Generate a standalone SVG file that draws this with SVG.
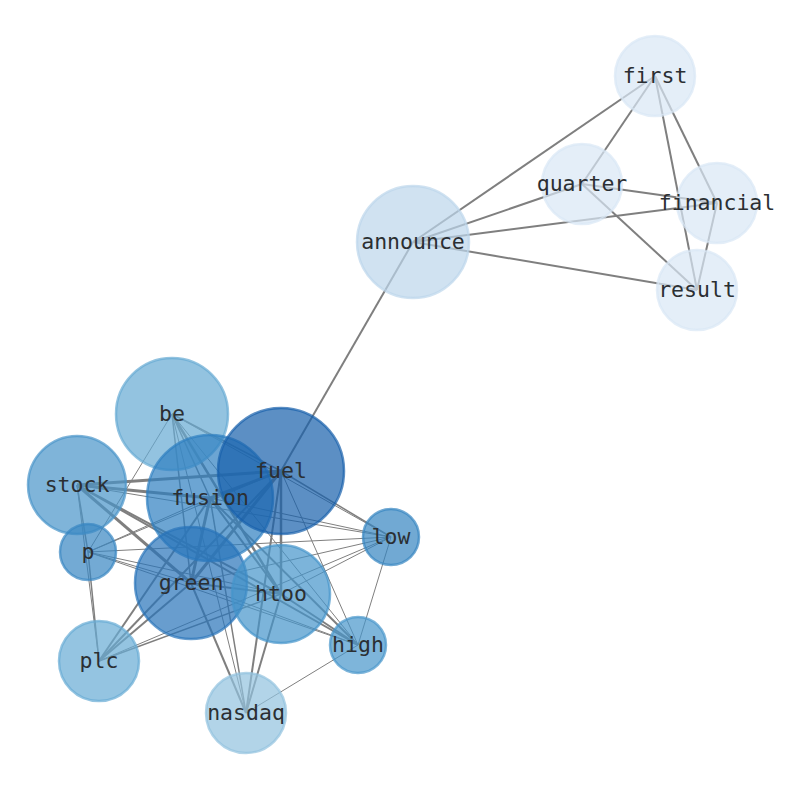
<svg xmlns="http://www.w3.org/2000/svg" width="794" height="790" viewBox="0 0 794 790">
<style>
.e{stroke:#7f7f7f;fill:none;stroke-linecap:butt}
.n{fill-opacity:0.7;stroke-opacity:0.7;stroke-width:2.5}
.l{font-family:"DejaVu Sans Mono","Liberation Mono",monospace;font-size:21.5px;fill:#2b2f33;text-anchor:middle}
</style>
<rect width="794" height="790" fill="#ffffff"/>
<g id="edges">
<line class="e" stroke-width="2" x1="413" y1="242" x2="655" y2="76"/>
<line class="e" stroke-width="2" x1="413" y1="242" x2="582" y2="184"/>
<line class="e" stroke-width="2" x1="413" y1="242" x2="717" y2="203"/>
<line class="e" stroke-width="2" x1="413" y1="242" x2="697" y2="290"/>
<line class="e" stroke-width="2" x1="413" y1="242" x2="281" y2="471"/>
<line class="e" stroke-width="2" x1="655" y1="76" x2="582" y2="184"/>
<line class="e" stroke-width="2" x1="655" y1="76" x2="717" y2="203"/>
<line class="e" stroke-width="2" x1="655" y1="76" x2="697" y2="290"/>
<line class="e" stroke-width="2" x1="582" y1="184" x2="717" y2="203"/>
<line class="e" stroke-width="2" x1="582" y1="184" x2="697" y2="290"/>
<line class="e" stroke-width="2" x1="717" y1="203" x2="697" y2="290"/>
<line class="e" stroke-width="3" x1="77" y1="485" x2="281" y2="471"/>
<line class="e" stroke-width="3" x1="77" y1="485" x2="210" y2="498"/>
<line class="e" stroke-width="3" x1="210" y1="498" x2="281" y2="471"/>
<line class="e" stroke-width="3" x1="191" y1="583" x2="281" y2="471"/>
<line class="e" stroke-width="3" x1="191" y1="583" x2="210" y2="498"/>
<line class="e" stroke-width="3" x1="77" y1="485" x2="191" y2="583"/>
<line class="e" stroke-width="2" x1="77" y1="485" x2="281" y2="594"/>
<line class="e" stroke-width="2" x1="77" y1="485" x2="358" y2="645"/>
<line class="e" stroke-width="1" x1="77" y1="485" x2="391" y2="537"/>
<line class="e" stroke-width="1.5" x1="77" y1="485" x2="88" y2="552"/>
<line class="e" stroke-width="1" x1="77" y1="485" x2="99" y2="661"/>
<line class="e" stroke-width="1.5" x1="172" y1="414" x2="281" y2="471"/>
<line class="e" stroke-width="1.5" x1="172" y1="414" x2="210" y2="498"/>
<line class="e" stroke-width="1.5" x1="172" y1="414" x2="191" y2="583"/>
<line class="e" stroke-width="2.5" x1="172" y1="414" x2="281" y2="594"/>
<line class="e" stroke-width="1" x1="172" y1="414" x2="391" y2="537"/>
<line class="e" stroke-width="1" x1="172" y1="414" x2="358" y2="645"/>
<line class="e" stroke-width="1" x1="172" y1="414" x2="88" y2="552"/>
<line class="e" stroke-width="1" x1="172" y1="414" x2="246" y2="713"/>
<line class="e" stroke-width="1" x1="281" y1="471" x2="88" y2="552"/>
<line class="e" stroke-width="2.5" x1="281" y1="471" x2="281" y2="594"/>
<line class="e" stroke-width="1.5" x1="281" y1="471" x2="391" y2="537"/>
<line class="e" stroke-width="1" x1="281" y1="471" x2="358" y2="645"/>
<line class="e" stroke-width="2" x1="281" y1="471" x2="99" y2="661"/>
<line class="e" stroke-width="2" x1="281" y1="471" x2="246" y2="713"/>
<line class="e" stroke-width="1" x1="210" y1="498" x2="88" y2="552"/>
<line class="e" stroke-width="2" x1="210" y1="498" x2="281" y2="594"/>
<line class="e" stroke-width="1" x1="210" y1="498" x2="391" y2="537"/>
<line class="e" stroke-width="2" x1="210" y1="498" x2="358" y2="645"/>
<line class="e" stroke-width="2" x1="210" y1="498" x2="99" y2="661"/>
<line class="e" stroke-width="1.5" x1="210" y1="498" x2="246" y2="713"/>
<line class="e" stroke-width="1" x1="88" y1="552" x2="191" y2="583"/>
<line class="e" stroke-width="1" x1="88" y1="552" x2="281" y2="594"/>
<line class="e" stroke-width="1" x1="88" y1="552" x2="391" y2="537"/>
<line class="e" stroke-width="1" x1="88" y1="552" x2="358" y2="645"/>
<line class="e" stroke-width="1.5" x1="88" y1="552" x2="99" y2="661"/>
<line class="e" stroke-width="2" x1="191" y1="583" x2="281" y2="594"/>
<line class="e" stroke-width="1" x1="191" y1="583" x2="391" y2="537"/>
<line class="e" stroke-width="1" x1="191" y1="583" x2="358" y2="645"/>
<line class="e" stroke-width="2" x1="191" y1="583" x2="99" y2="661"/>
<line class="e" stroke-width="2" x1="191" y1="583" x2="246" y2="713"/>
<line class="e" stroke-width="1" x1="281" y1="594" x2="391" y2="537"/>
<line class="e" stroke-width="2" x1="281" y1="594" x2="358" y2="645"/>
<line class="e" stroke-width="1.5" x1="281" y1="594" x2="99" y2="661"/>
<line class="e" stroke-width="2" x1="281" y1="594" x2="246" y2="713"/>
<line class="e" stroke-width="1" x1="391" y1="537" x2="99" y2="661"/>
<line class="e" stroke-width="1" x1="391" y1="537" x2="358" y2="645"/>
<line class="e" stroke-width="1" x1="358" y1="645" x2="246" y2="713"/>
</g>
<g id="nodes">
<g id="node-first"><circle class="n" cx="655" cy="76" r="40" fill="#d8e7f5" stroke="#d8e7f5"/></g>
<g id="node-quarter"><circle class="n" cx="582" cy="184" r="40" fill="#d8e7f5" stroke="#d8e7f5"/></g>
<g id="node-financial"><circle class="n" cx="717" cy="203" r="40" fill="#d8e7f5" stroke="#d8e7f5"/></g>
<g id="node-result"><circle class="n" cx="697" cy="290" r="40" fill="#d8e7f5" stroke="#d8e7f5"/></g>
<g id="node-announce"><circle class="n" cx="413" cy="242" r="56" fill="#bcd6eb" stroke="#bcd6eb"/></g>
<g id="node-be"><circle class="n" cx="172" cy="414" r="56" fill="#65aad3" stroke="#65aad3"/></g>
<g id="node-stock"><circle class="n" cx="77" cy="485" r="49" fill="#4894c9" stroke="#4894c9"/></g>
<g id="node-fusion"><circle class="n" cx="210" cy="498" r="63" fill="#2d7fc1" stroke="#2d7fc1"/></g>
<g id="node-fuel"><circle class="n" cx="281" cy="471" r="63" fill="#175fab" stroke="#175fab"/></g>
<g id="node-p"><circle class="n" cx="88" cy="552" r="28" fill="#3886c2" stroke="#3886c2"/></g>
<g id="node-green"><circle class="n" cx="191" cy="583" r="56" fill="#2873b9" stroke="#2873b9"/></g>
<g id="node-htoo"><circle class="n" cx="281" cy="594" r="49" fill="#4594cb" stroke="#4594cb"/></g>
<g id="node-low"><circle class="n" cx="391" cy="537" r="28" fill="#3584c1" stroke="#3584c1"/></g>
<g id="node-high"><circle class="n" cx="358" cy="645" r="28" fill="#4795cb" stroke="#4795cb"/></g>
<g id="node-plc"><circle class="n" cx="99" cy="661" r="40" fill="#66abd4" stroke="#66abd4"/></g>
<g id="node-nasdaq"><circle class="n" cx="246" cy="713" r="40" fill="#91c2de" stroke="#91c2de"/></g>
</g>
<g id="labels">
<text class="l" x="655" y="83">first</text>
<text class="l" x="582" y="191">quarter</text>
<text class="l" x="717" y="210">financial</text>
<text class="l" x="697" y="297">result</text>
<text class="l" x="413" y="249">announce</text>
<text class="l" x="172" y="421">be</text>
<text class="l" x="77" y="492">stock</text>
<text class="l" x="210" y="505">fusion</text>
<text class="l" x="281" y="478">fuel</text>
<text class="l" x="88" y="559">p</text>
<text class="l" x="191" y="590">green</text>
<text class="l" x="281" y="601">htoo</text>
<text class="l" x="391" y="544">low</text>
<text class="l" x="358" y="652">high</text>
<text class="l" x="99" y="668">plc</text>
<text class="l" x="246" y="720">nasdaq</text>
</g>
</svg>
